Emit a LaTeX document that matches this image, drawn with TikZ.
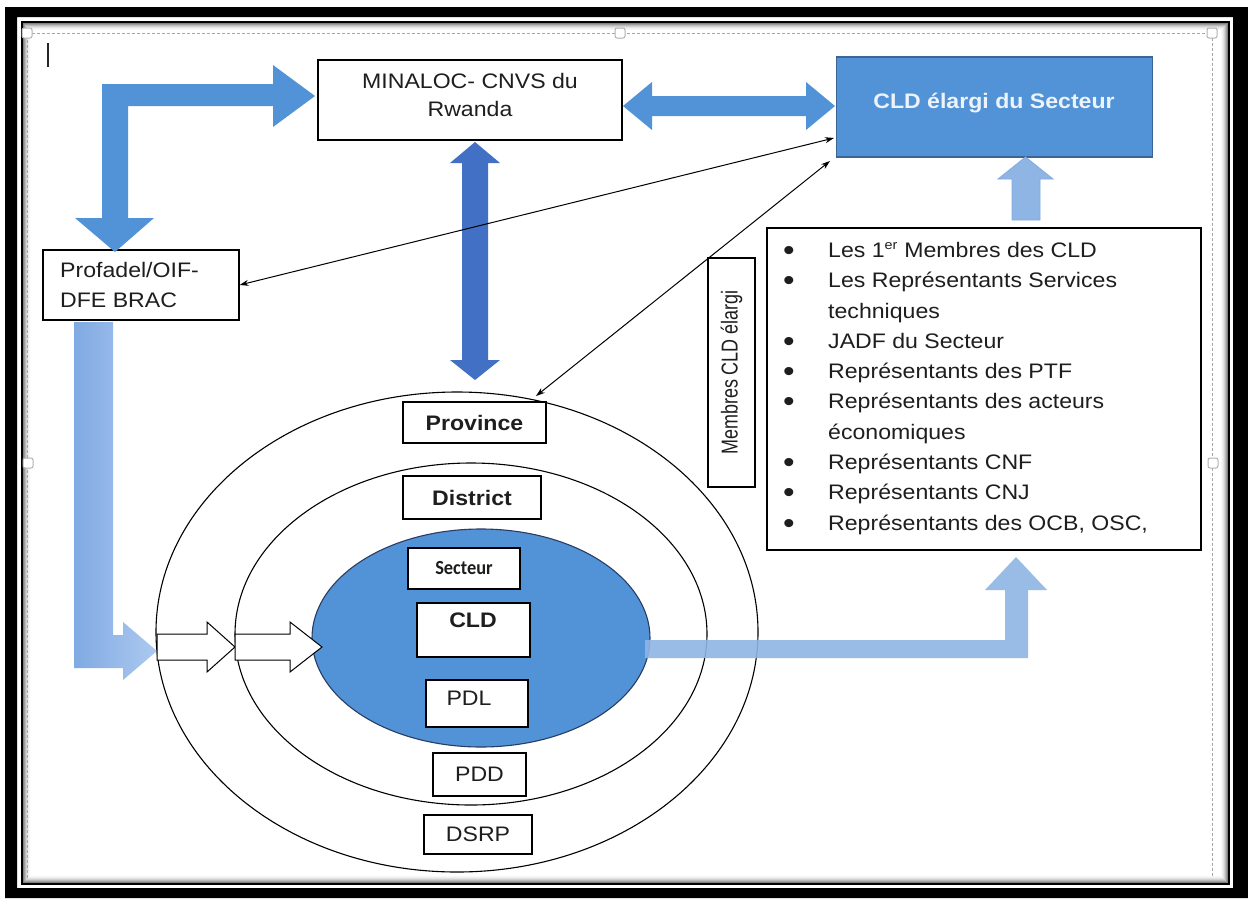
\documentclass[tikz,border=0pt]{standalone}
\usepackage{fontspec}
\setmainfont{Liberation Sans}[FakeStretch=1.1]
\newfontfamily\narrowfont{Liberation Sans}[FakeStretch=0.78]
\newfontfamily\calfont{Carlito}[FakeStretch=0.92]
\usetikzlibrary{arrows.meta,calc}
\definecolor{midblue}{RGB}{82,146,214}
\definecolor{darkblue}{RGB}{66,112,196}
\definecolor{lightblue}{RGB}{143,181,229}
\definecolor{lightblueA}{RGB}{128,170,226}
\definecolor{lightblueB}{RGB}{172,201,240}
\definecolor{edgeblue}{RGB}{60,100,150}
\definecolor{navy}{RGB}{40,60,100}
\definecolor{titlewhite}{RGB}{236,243,250}
\definecolor{inktext}{RGB}{30,30,30}
\newcommand\fsz{\fontsize{21pt}{30pt}\selectfont}
\begin{document}
\begin{tikzpicture}[x=1pt,y=-1pt,
  rbox/.style={draw=black, line width=1.1pt, fill=white, inner sep=0pt},
  txt/.style={inner sep=0pt, font=\fsz, text=inktext},
  btxt/.style={inner sep=0pt, font=\fsz\bfseries, text=inktext},
  tarrow/.style={line width=1pt, {Stealth[length=9pt,width=6pt]}-{Stealth[length=9pt,width=6pt]}},
  bul/.style={inner sep=0pt, font=\fontsize{30pt}{30pt}\selectfont, text=inktext, anchor=base},
  item/.style={inner sep=0pt, font=\fsz, text=inktext, anchor=base west},
  whitearrow/.style={draw=black, fill=white, line width=1pt}
]
\useasboundingbox (0,0) rectangle (1248,898);
\fill[white] (0,0) rectangle (1248,898);
% frame
\fill[black,even odd rule] (5,7) rectangle (1248,898) (17,17) rectangle (1233,888);
\draw[black,line width=2pt] (21.5,21.5) rectangle (1229,884);
\foreach \i/\g in {1/50,2/38,3/27,4/18,5/11,6/6,7/3}{
  \draw[black!\g, line width=1pt] (22.5+\i,22.5+\i) rectangle (1228-\i,883-\i);
}
% selection frame
\draw[gray!70, line width=0.8pt, dash pattern=on 3pt off 2pt] (27,878) -- (27,33) -- (1212,33) -- (1212,878);
\foreach \p in {(27,33),(620,33),(1212,33),(28,463),(1213,463)}{
  \draw[gray!60, fill=white, rounded corners=2pt, line width=1pt] \p ++(-5,-5) rectangle ++(10,10);
}
% text cursor
\draw[line width=1.3pt, black!85] (48,43) -- (48,67);

% ellipses
\draw[line width=1.1pt] (457,632) ellipse [x radius=301pt, y radius=240pt];
\draw[line width=1.1pt] (471,634) ellipse [x radius=236pt, y radius=171pt];
\draw[line width=1.1pt, fill=midblue, draw=navy] (481,638) ellipse [x radius=169pt, y radius=109pt];

% top boxes
\node[rbox, minimum width=304pt, minimum height=80pt] (mina) at (470,100) {};
\node[txt, anchor=base] (minaT1) at (470,88) {MINALOC- CNVS du};
\node[txt, anchor=base] (minaT2) at (470,116) {Rwanda};

\node[rbox, draw=edgeblue, fill=midblue, minimum width=316pt, minimum height=100pt] (clde) at (994.5,107) {};
\node[btxt, anchor=base, text=titlewhite] (cldeT) at (994,108) {CLD élargi du Secteur};

\node[rbox, minimum width=196pt, minimum height=70pt] (prof) at (141,285) {};
\node[item] (profT1) at (60,277) {Profadel/OIF-};
\node[item] (profT2) at (60,307) {DFE BRAC};

% list box
\node[rbox, minimum width=434pt, minimum height=322pt] (list) at (984,389) {};
\node[rbox, minimum width=229pt, minimum height=47pt, rotate=90, font=\narrowfont\fontsize{23pt}{26pt}\selectfont, text=inktext] (memb) at (731.5,372.5) {Membres CLD élargi};
\node[bul] (b1) at (789,260) {•};
\node[item] (l1) at (828,257) {Les 1\textsuperscript{\fontsize{13pt}{13pt}\selectfont er} Membres des CLD};
\node[bul] (b2) at (789,290) {•};
\node[item] (l2) at (828,287) {Les Représentants Services};
\node[item] (l3) at (828,318) {techniques};
\node[bul] (b4) at (789,351) {•};
\node[item] (l4) at (828,348) {JADF du Secteur};
\node[bul] (b5) at (789,381) {•};
\node[item] (l5) at (828,378) {Représentants des PTF};
\node[bul] (b6) at (789,411) {•};
\node[item] (l6) at (828,408) {Représentants des acteurs};
\node[item] (l7) at (828,439) {économiques};
\node[bul] (b8) at (789,472) {•};
\node[item] (l8) at (828,469) {Représentants CNF};
\node[bul] (b9) at (789,502) {•};
\node[item] (l9) at (828,499) {Représentants CNJ};
\node[bul] (b10) at (789,533) {•};
\node[item] (l10) at (828,530) {Représentants des OCB, OSC,};

% boxes inside ellipses
\node[rbox, btxt, minimum width=143pt, minimum height=41pt] (prov) at (474.5,422.5) {Province};
\node[rbox, btxt, minimum width=138pt, minimum height=43pt] (dist) at (472,497.5) {District};
\node[rbox, minimum width=112pt, minimum height=41pt, font=\calfont\fontsize{20pt}{24pt}\selectfont\bfseries, text=inktext] (sect) at (464,568.5) {Secteur};
\node[rbox, minimum width=113pt, minimum height=54pt] (cld) at (473.5,630) {};
\node[btxt, anchor=base] (cldT) at (473,627.5) {CLD};
\node[rbox, minimum width=102pt, minimum height=47pt] (pdl) at (477,703.5) {};
\node[txt, anchor=base] (pdlT) at (469,705.5) {PDL};
\node[rbox, txt, minimum width=93pt, minimum height=43pt] (pdd) at (479.5,774.5) {PDD};
\node[rbox, txt, minimum width=108pt, minimum height=39pt] (dsrp) at (478,834.5) {DSRP};

% block arrows
\fill[midblue] (115,252) -- (154,218) -- (128,218) -- (128,106) -- (273,106) -- (273,127) -- (315,96) -- (273,65) -- (273,84) -- (102,84) -- (102,218) -- (75,218) -- cycle;
\fill[midblue] (623,106) -- (652,82) -- (652,96) -- (806,96) -- (806,82) -- (835,106) -- (806,130) -- (806,116) -- (652,116) -- (652,130) -- cycle;
\fill[darkblue] (475,142) -- (500,163) -- (488,163) -- (488,360) -- (500,360) -- (475,380) -- (450,360) -- (462,360) -- (462,163) -- (450,163) -- cycle;
\filldraw[fill=lightblue, draw=lightblueA, line width=0.8pt] (1025.5,157) -- (1053,179) -- (1040,179) -- (1040,220) -- (1012,220) -- (1012,179) -- (998,179) -- cycle;
\fill[lightblue, fill opacity=0.9] (645,640) -- (1005,640) -- (1005,590) -- (985,590) -- (1016,557) -- (1047,590) -- (1028,590) -- (1028,658) -- (645,658) -- cycle;
\shade[left color=lightblueA, right color=lightblueB] (74,322) -- (113,322) -- (113,635) -- (123,635) -- (123,622) -- (157,651) -- (123,680) -- (123,668) -- (74,668) -- cycle;
\draw[whitearrow] (157,634) -- (207,634) -- (207,622) -- (235,647) -- (207,672) -- (207,660) -- (157,660) -- cycle;
\draw[whitearrow] (235,634) -- (290,634) -- (290,622) -- (322,647) -- (290,672) -- (290,660) -- (235,660) -- cycle;

% thin double arrows
\coordinate (cldIn1) at (834,138);
\coordinate (cldIn2) at (830,161);
\coordinate (ellTop) at (536,396);
\draw[tarrow] (prof.east) -- (cldIn1);
\draw[tarrow] (ellTop) -- (cldIn2);
\end{tikzpicture}
\end{document}
